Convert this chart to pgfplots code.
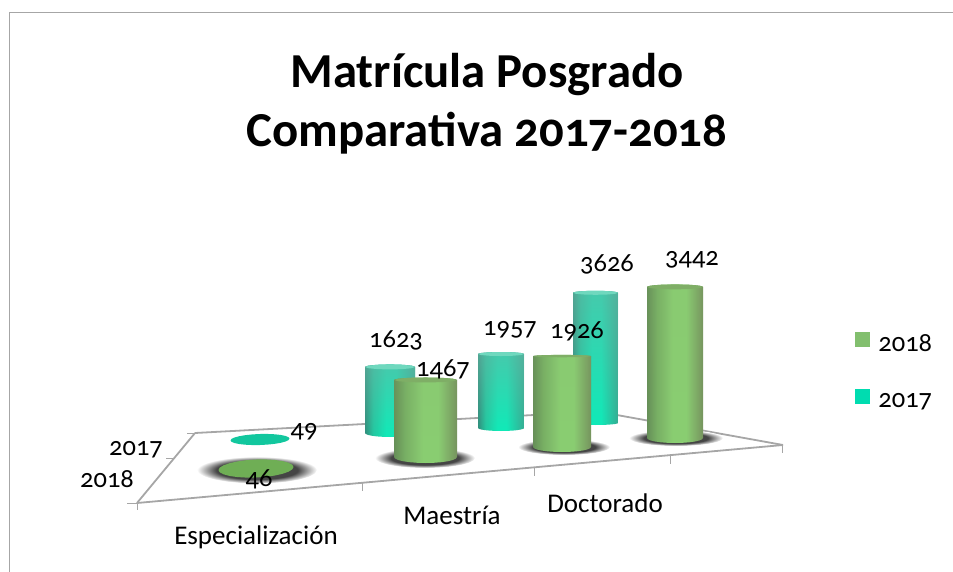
\documentclass[border=0pt]{standalone}
\usepackage{fontspec}
\setmainfont[Numbers=OldStyle]{Carlito}
\usepackage{pgfplots}
\pgfplotsset{compat=1.18}
\usetikzlibrary{calc,fadings}
\definecolor{tealL}{HTML}{2F8F7C}
\definecolor{tealN}{HTML}{22C8A0}
\definecolor{tealM}{HTML}{10EAB8}
\definecolor{tealR}{HTML}{35AC92}
\definecolor{tealC}{HTML}{6FD8BE}
\definecolor{tealV}{HTML}{6AB4A4}
\definecolor{greenL}{HTML}{668F58}
\definecolor{greenN}{HTML}{78B064}
\definecolor{greenM}{HTML}{8ACE72}
\definecolor{greenR}{HTML}{76935E}
\definecolor{greenC}{HTML}{7FAE66}
\definecolor{greenV}{HTML}{88B070}
\definecolor{discT}{HTML}{12C79E}
\definecolor{discG}{HTML}{6FAE55}
\definecolor{floorg}{HTML}{A6A6A6}
\definecolor{shadowc}{HTML}{454545}
\pgfdeclareradialshading{shad}{\pgfpointorigin}{color(0bp)=(shadowc); color(17bp)=(shadowc); color(25bp)=(white); color(50bp)=(white)}
\pgfdeclarehorizontalshading{cylteal}{100bp}{color(0bp)=(tealL); color(25bp)=(tealL); color(33bp)=(tealN); color(46bp)=(tealM); color(56bp)=(tealM); color(75bp)=(tealR); color(100bp)=(tealR)}
\pgfdeclarehorizontalshading{cylgreen}{100bp}{color(0bp)=(greenL); color(25bp)=(greenL); color(34bp)=(greenN); color(48bp)=(greenM); color(60bp)=(greenM); color(75bp)=(greenR); color(100bp)=(greenR)}
\tikzset{tealfade/.style={path fading=south,fill opacity=0.6},greenfade/.style={path fading=south,fill opacity=0.1}}
% cx, half width, base y, value, px per unit, ry bottom, ry top, family
\newcommand\cyl[8]{%
  \pgfmathsetmacro\topy{#3-#4*#5}%
  \gdef\pts{}%
  \foreach \a in {180,165,...,0}{%
    \pgfmathsetmacro\px{#1+#2*cos(\a)}\pgfmathsetmacro\py{#3+#6*sin(\a)}\xdef\pts{\pts (\px,\py)}}%
  \foreach \a in {0,15,...,180}{%
    \pgfmathsetmacro\px{#1+#2*cos(\a)}\pgfmathsetmacro\py{\topy-#7*sin(\a)}\xdef\pts{\pts (\px,\py)}}%
  \edef\cmd{\noexpand\addplot[draw=none,shade,shading=cyl#8] coordinates {\pts} --cycle;}\cmd
  \edef\cmd{\noexpand\addplot[draw=none,fill=#8V,#8fade] coordinates {\pts} --cycle;}\cmd
  \gdef\pts{}%
  \foreach \a in {0,30,...,330}{%
    \pgfmathsetmacro\px{#1+#2*cos(\a)}\pgfmathsetmacro\py{\topy-#7*sin(\a)}\xdef\pts{\pts (\px,\py)}}%
  \edef\cmd{\noexpand\addplot[draw=none,fill=#8C] coordinates {\pts} --cycle;}\cmd
}
% flat disc: cx, cy, rx, ry, tilt, colour
\newcommand\disc[6]{%
  \gdef\pts{}%
  \foreach \a in {0,15,...,345}{%
    \pgfmathsetmacro\px{#1+#3*cos(\a)}\pgfmathsetmacro\py{#2+#4*sin(\a)+#5*#3*cos(\a)}\xdef\pts{\pts (\px,\py)}}%
  \edef\cmd{\noexpand\addplot[draw=none,#6] coordinates {\pts} --cycle;}\cmd
}
\newcommand\seg[4]{\addplot[draw=floorg,line width=1.8pt] coordinates {(#1,#2) (#3,#4)};}
\newcommand\tickl[4]{\addplot[draw=floorg,line width=0.9pt] coordinates {(#1,#2) (#3,#4)};}
\begin{document}
\begin{tikzpicture}
\useasboundingbox (0,0) rectangle (953pt,572pt);
\begin{axis}[
  at={(0,0)},anchor=south west,
  x=1pt,y=1pt,scale only axis,
  xmin=0,xmax=953,ymin=0,ymax=572,y dir=reverse,
  axis lines=none,clip=false,
  legend style={at={(axis cs:855,371.5)},anchor=west,draw=none,fill=none,
    font=\fontsize{26.5}{26.5}\selectfont,row sep=34pt,inner sep=0pt,
    legend cell align=left},
  legend image code/.code={\fill[draw=none,#1] (0pt,-3.5pt) rectangle (15pt,11.5pt);\path (21pt,0pt);},
]
\addlegendimage{fill={rgb,255:red,130;green,191;blue,110}}
\addlegendentry{2018}
\addlegendimage{fill={rgb,255:red,0;green,220;blue,176}}
\addlegendentry{2017}
% frame
\addplot[draw=floorg,line width=1.2pt] coordinates {(9.5,572) (9.5,12.5) (953,12.5)};
% floor
\seg{137}{503}{195}{433}
\seg{195}{433}{598}{411.6}
\seg{598}{411.6}{783}{445}
\seg{137}{503}{783}{445}
\tickl{137}{503}{137}{510}
\tickl{127}{503}{137}{503}
\tickl{362}{483}{362}{491}
\tickl{534}{468}{534}{476}
\tickl{670}{456}{670}{464}
\tickl{782}{445}{782}{453}
\tickl{166}{458}{173}{458}
\tickl{187}{433}{195}{433}
% 2017
\disc{260}{439.5}{29.5}{5.5}{-0.03}{fill=discT}
\cyl{390}{25}{433}{1623}{0.0407}{4}{2.5}{teal}
\cyl{501}{23}{428}{1957}{0.0378}{3}{2}{teal}
\cyl{595.5}{22.5}{423}{3626}{0.0359}{2}{2}{teal}
% shadows
\disc{257}{470}{60}{13.5}{0}{shade,shading=shad}
\disc{425}{458}{50}{10}{0}{shade,shading=shad}
\disc{564}{447}{46}{8}{0}{shade,shading=shad}
\disc{676}{438}{47}{8}{0}{shade,shading=shad}
% 2018
\disc{256}{468.5}{37.5}{9}{-0.04}{fill=discG}
\cyl{425.5}{31.5}{457}{1467}{0.0525}{6}{2.5}{green}
\cyl{562}{29}{447}{1926}{0.0472}{5}{1.2}{green}
\cyl{675}{28}{438}{3442}{0.0439}{5}{2.5}{green}
% data labels
\addplot[only marks,mark=none,point meta=explicit symbolic,
  nodes near coords,
  nodes near coords align={anchor=center},
  every node near coord/.append style={font=\fontsize{26.5}{26.5}\selectfont,inner sep=0pt,text=black}]
  table[meta=v] {
  x y v
  304 432 49
  259 479 46
  396 340 1623
  443 369 1467
  510 330 1957
  577 331 1926
  607 264 3626
  692 260 3442
};
% text
\node[font=\bfseries\fontsize{48.8}{59}\selectfont,align=center] at (axis cs:487,103.5) {Matrícula Posgrado\\Comparativa 2017-2018};
\node[font=\fontsize{27}{27}\selectfont] at (axis cs:256,537) {Especialización};
\node[font=\fontsize{27}{27}\selectfont] at (axis cs:452,515) {Maestría};
\node[font=\fontsize{27}{27}\selectfont] at (axis cs:605,503) {Doctorado};
\node[font=\fontsize{26.5}{26.5}\selectfont] at (axis cs:136,450) {2017};
\node[font=\fontsize{26.5}{26.5}\selectfont] at (axis cs:107,479) {2018};
\end{axis}
\end{tikzpicture}
\end{document}
